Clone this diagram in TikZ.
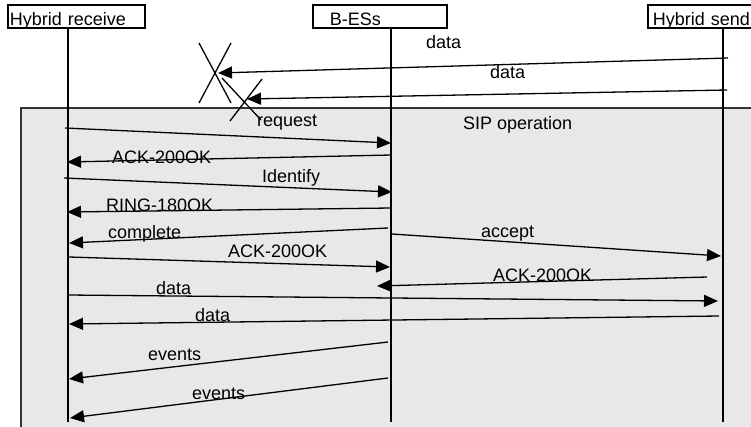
\documentclass[tikz,border=0pt]{standalone}
\usepackage{fontspec}
\setmainfont{Liberation Sans}
\usetikzlibrary{arrows.meta,positioning}

\begin{document}
\begin{tikzpicture}[x=1pt, y=-1pt,
    font=\fontsize{18}{21}\selectfont,
    actor/.style={rectangle, draw, line width=1.8pt, fill=white, text height=19pt, text depth=0pt, inner ysep=2pt, align=left, anchor=north west},
    life/.style={line width=1.3pt},
    msg/.style={line width=1.3pt, -{Triangle[length=14pt, width=12pt]}},
    lbl/.style={anchor=base west, inner sep=0pt},
    cross/.style={line width=1.3pt}
]
    \useasboundingbox (0,0) rectangle (751,426);

    % SIP operation area
    \fill[black!9] (21,108) rectangle (760,430);
    \draw[black!80, line width=1.5pt] (21,430) -- (21,108) -- (760,108);
    \node [lbl] (sipL) at (463,129) {SIP operation};

    % actors and lifelines
    \node [actor, inner xsep=2pt, text width=133pt] (recv) at (7,4) {Hybrid receive};
    \node [actor, inner xsep=17pt, text width=100pt] (bes) at (312,4) {B-ESs};
    \node [actor, inner xsep=5pt, text width=100pt] (send) at (647,4) {Hybrid send};

    \coordinate (recvTop) at (68,27);  \coordinate (recvEnd) at (68,422);
    \coordinate (besTop) at (391,27);  \coordinate (besEnd) at (391,422);
    \coordinate (sendTop) at (723,27); \coordinate (sendEnd) at (723,422);
    \draw [life] (recvTop) -- (recvEnd);
    \draw [life] (besTop) -- (besEnd);
    \draw [life] (sendTop) -- (sendEnd);

    % lost data
    \coordinate (d1a) at (728,58); \coordinate (d1b) at (218,73);
    \coordinate (d2a) at (727,90); \coordinate (d2b) at (247,99);
    \draw [msg] (d1a) -- (d1b);
    \draw [msg] (d2a) -- (d2b);
    \node [lbl] (d1L) at (426,48) {data};
    \node [lbl] (d2L) at (490,78) {data};
    \draw [cross] (199,43) -- (231,103) (231,43) -- (199,103);
    \draw [cross] (222,78) -- (261,120) (262,79) -- (230,121);

    % session set-up
    \coordinate (reqa) at (65,128);   \coordinate (reqb) at (391,143);
    \coordinate (ack1a) at (391,155); \coordinate (ack1b) at (67,162);
    \coordinate (idfa) at (64,178);   \coordinate (idfb) at (392,192);
    \coordinate (ringa) at (391,208); \coordinate (ringb) at (67,212);
    \coordinate (cmpa) at (388,228);  \coordinate (cmpb) at (69,243);
    \coordinate (acca) at (392,234);  \coordinate (accb) at (721,256);
    \coordinate (ack2a) at (69,257);  \coordinate (ack2b) at (390,267);
    \coordinate (ack3a) at (707,277); \coordinate (ack3b) at (377,286);
    \draw [msg] (reqa) -- (reqb);
    \draw [msg] (ack1a) -- (ack1b);
    \draw [msg] (idfa) -- (idfb);
    \draw [msg] (ringa) -- (ringb);
    \draw [msg] (cmpa) -- (cmpb);
    \draw [msg] (acca) -- (accb);
    \draw [msg] (ack2a) -- (ack2b);
    \draw [msg] (ack3a) -- (ack3b);
    \node [lbl] (reqL) at (257,126) {request};
    \node [lbl] (ack1L) at (112,163) {ACK-200OK};
    \node [lbl] (idfL) at (262,182) {Identify};
    \node [lbl] (ringL) at (106,211) {RING-180OK};
    \node [lbl] (cmpL) at (108,238) {complete};
    \node [lbl] (accL) at (481,237) {accept};
    \node [lbl] (ack2L) at (228,257) {ACK-200OK};
    \node [lbl] (ack3L) at (493,281) {ACK-200OK};

    % data and events
    \coordinate (dat1a) at (68,295);  \coordinate (dat1b) at (718,301);
    \coordinate (dat2a) at (719,316); \coordinate (dat2b) at (69,324);
    \coordinate (ev1a) at (388,342);  \coordinate (ev1b) at (69,379);
    \coordinate (ev2a) at (388,378);  \coordinate (ev2b) at (70,418);
    \draw [msg] (dat1a) -- (dat1b);
    \draw [msg] (dat2a) -- (dat2b);
    \draw [msg] (ev1a) -- (ev1b);
    \draw [msg] (ev2a) -- (ev2b);
    \node [lbl] (dat1L) at (156,294) {data};
    \node [lbl] (dat2L) at (195,321) {data};
    \node [lbl] (ev1L) at (148,360) {events};
    \node [lbl] (ev2L) at (192,399) {events};
\end{tikzpicture}
\end{document}
